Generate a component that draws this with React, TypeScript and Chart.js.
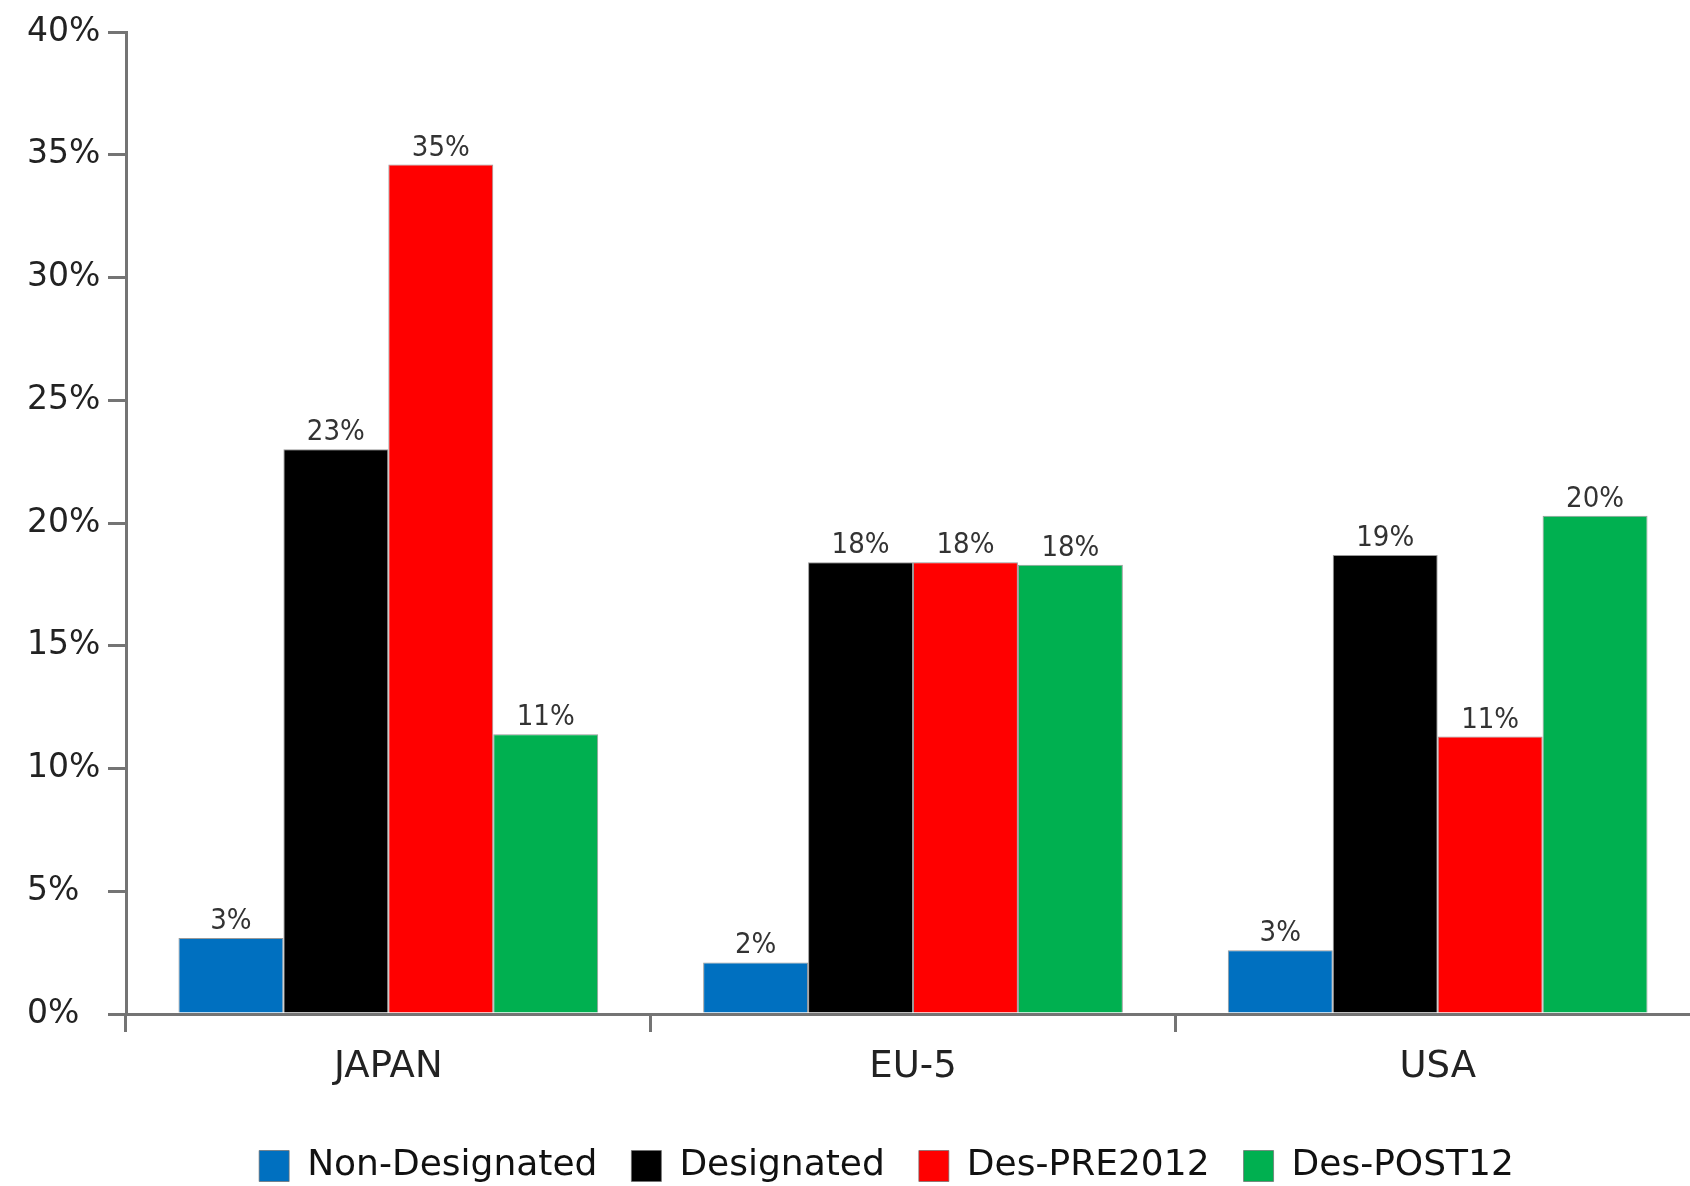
import React, { useEffect, useRef } from 'react';
import { Chart, registerables } from 'chart.js';

Chart.register(...registerables);

const categories = ['JAPAN', 'EU-5', 'USA'];
const seriesNames = ['Non-Designated', 'Designated', 'Des-PRE2012', 'Des-POST12'];
const nonDesignated = [3.1, 2.1, 2.6];
const designated = [23.0, 18.4, 18.7];
const desPre2012 = [34.6, 18.4, 11.3];
const desPost12 = [11.4, 18.3, 20.3];
const seriesColors = ['#0070C0', '#000000', '#FF0000', '#00B050'];
const yMin = 0;
const yMax = 40;
const yStep = 5;

const barLabels = {
  id: 'barLabels',
  afterDatasetsDraw(chart: any) {
    const ctx = chart.ctx;
    ctx.save();
    ctx.font = "29px 'DejaVu Sans Condensed', 'DejaVu Sans', sans-serif";
    ctx.fillStyle = '#333333';
    ctx.textAlign = 'center';
    ctx.textBaseline = 'alphabetic';
    chart.data.datasets.forEach((ds: any, i: number) => {
      const meta = chart.getDatasetMeta(i);
      meta.data.forEach((bar: any, j: number) => {
        const v = ds.data[j];
        ctx.fillText(Math.round(v) + '%', bar.x, bar.y - 9);
      });
    });
    ctx.restore();
  },
};

export default function App() {
  const canvasRef = useRef<HTMLCanvasElement | null>(null);

  useEffect(() => {
    if (!canvasRef.current) return;
    const allSeries = [nonDesignated, designated, desPre2012, desPost12];
    const axisColor = '#747474';
    const chart = new Chart(canvasRef.current, {
      type: 'bar',
      data: {
        labels: categories,
        datasets: allSeries.map((d, i) => ({
          label: seriesNames[i],
          data: d,
          backgroundColor: seriesColors[i],
          borderColor: 'rgba(110,110,110,0.7)',
          borderWidth: 1,
          categoryPercentage: 0.8,
          barPercentage: 1.0,
        })),
      },
      options: {
        animation: false,
        responsive: true,
        maintainAspectRatio: false,
        layout: { padding: { top: 32, left: 27, right: 74, bottom: 0 } },
        plugins: {
          tooltip: { enabled: false },
          title: { display: false },
          legend: {
            position: 'bottom',
            maxHeight: 72,
            labels: {
              font: { family: "'DejaVu Sans', sans-serif", size: 36 },
              color: '#111111',
              boxWidth: 30,
              boxHeight: 31,
              padding: 34,
            },
          },
        },
        scales: {
          x: {
            grid: {
              offset: true,
              drawOnChartArea: false,
              drawTicks: true,
              tickLength: 18,
              color: axisColor,
              lineWidth: 3,
            },
            border: { display: true, color: axisColor, width: 3 },
            ticks: {
              font: { family: "'DejaVu Sans', sans-serif", size: 37 },
              color: '#222222',
              padding: 13,
            },
            afterFit: (scale: any) => {
              scale.height = 100;
            },
          },
          y: {
            min: yMin,
            max: yMax,
            grid: {
              drawOnChartArea: false,
              drawTicks: true,
              tickLength: 18,
              color: axisColor,
              lineWidth: 3,
            },
            border: { display: true, color: axisColor, width: 3 },
            ticks: {
              stepSize: yStep,
              font: { family: "'DejaVu Sans', sans-serif", size: 33 },
              color: '#222222',
              crossAlign: 'far',
              padding: 8,
              callback: (v: any) => v + '%',
            },
            afterFit: (scale: any) => {
              scale.width = 99;
            },
          },
          yRight: {
            type: 'linear',
            position: 'right',
            min: yMin,
            max: yMax,
            grid: { display: false, drawOnChartArea: false },
            border: { display: false },
            ticks: { display: false },
            afterFit: (scale: any) => {
              scale.width = 46;
            },
          },
        },
      },
      plugins: [barLabels],
    } as any);
    return () => chart.destroy();
  }, []);

  return (
    <div
      style={{
        position: 'fixed',
        left: 0,
        top: 0,
        width: 1690,
        height: 1186,
        overflow: 'hidden',
        background: '#ffffff',
      }}
    >
      <div style={{ position: 'relative', width: 1820, height: 1186 }}>
        <canvas ref={canvasRef} />
      </div>
    </div>
  );
}
